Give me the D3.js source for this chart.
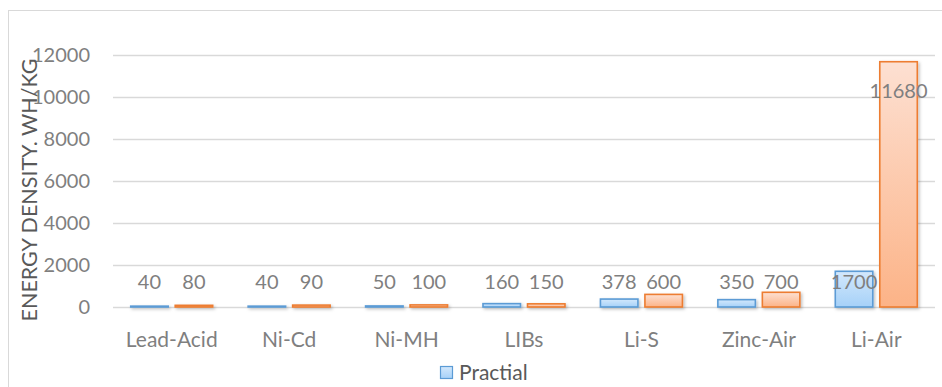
<!DOCTYPE html>
<html>
<head>
<meta charset="utf-8">
<script src="https://cdn.jsdelivr.net/npm/d3@7"></script>
<style>
  html, body { margin: 0; padding: 0; background: #fff; }
  svg { display: block; font-family: Lato, "Open Sans", sans-serif; }
</style>
</head>
<body>
<svg id="chart" width="942" height="387"></svg>
<script>
// Battery chemistries and their energy densities (Wh/kg)
const categories = ["Lead-Acid", "Ni-Cd", "Ni-MH", "LIBs", "Li-S", "Zinc-Air", "Li-Air"];
const practical = [40, 40, 50, 160, 378, 350, 1700];
const theoretical = [80, 90, 100, 150, 600, 700, 11680];
const yTicks = [0, 2000, 4000, 6000, 8000, 10000, 12000];
const yTitle = "ENERGY DENSITY. WH/KG";
const legendLabel = "Practial";

const svg = d3.select("#chart");
const W = 942, H = 387;
const plot = { left: 113, right: 935, top: 55, bottom: 307 };

const defs = svg.append("defs");
function gradient(id, top, bottom) {
  const g = defs.append("linearGradient").attr("id", id)
    .attr("x1", 0).attr("y1", 0).attr("x2", 0).attr("y2", 1);
  g.append("stop").attr("offset", "0%").attr("stop-color", top);
  g.append("stop").attr("offset", "100%").attr("stop-color", bottom);
}
gradient("gBlue", "#d3e8fc", "#a6d1f8");
gradient("gOrange", "#fde0d2", "#fcb387");
const shadow = defs.append("filter").attr("id", "shadow")
  .attr("x", "-20%").attr("y", "-20%").attr("width", "150%").attr("height", "150%");
shadow.append("feDropShadow").attr("dx", 1.5).attr("dy", 1.5)
  .attr("stdDeviation", 1.5).attr("flood-color", "#000").attr("flood-opacity", 0.25);

// Chart frame
svg.append("rect").attr("x", 8.5).attr("y", 10.5).attr("width", W).attr("height", H)
  .attr("fill", "#fff").attr("stroke", "#d9d9d9").attr("stroke-width", 1);

const x = d3.scaleBand().domain(categories).range([plot.left, plot.right]);
const y = d3.scaleLinear().domain([0, 12000]).range([plot.bottom, plot.top]);

// Gridlines
svg.append("g").selectAll("line").data(yTicks).join("line")
  .attr("x1", plot.left).attr("x2", plot.right)
  .attr("y1", d => Math.round(y(d)) + 0.5).attr("y2", d => Math.round(y(d)) + 0.5)
  .attr("stroke", "#d9d9d9").attr("stroke-width", 1.3);

// Y axis labels
const yAxis = svg.append("g").attr("transform", `translate(${plot.left},0)`)
  .call(d3.axisLeft(y).tickValues(yTicks).tickSize(0).tickPadding(23).tickFormat(d3.format("d")));
yAxis.select(".domain").remove();
yAxis.selectAll("text").attr("fill", "#7f7f7f").style("font-size", "20px")
  .style("font-family", "Lato, sans-serif");

// X axis labels
const xAxis = svg.append("g").attr("transform", `translate(0,${plot.bottom})`)
  .call(d3.axisBottom(x).tickSize(0).tickPadding(25));
xAxis.select(".domain").remove();
xAxis.selectAll("text").attr("fill", "#7f7f7f").style("font-size", "21px")
  .style("font-family", "Lato, sans-serif");

// Y axis title
svg.append("text")
  .attr("transform", "translate(37,190) rotate(-90)")
  .attr("text-anchor", "middle").attr("fill", "#595959")
  .style("font-size", "21.5px").text(yTitle);

// Bars
const barW = 37.5, gap = 7;
const series = [
  { values: practical, fill: "url(#gBlue)", stroke: "#5b9bd5", offset: -(gap / 2 + barW) },
  { values: theoretical, fill: "url(#gOrange)", stroke: "#ed7d31", offset: gap / 2 }
];
const cx = c => x(c) + x.bandwidth() / 2;

series.forEach(s => {
  const rows = categories.map((c, i) => ({ c, v: s.values[i] }));
  svg.append("g").attr("filter", "url(#shadow)").selectAll("rect").data(rows).join("rect")
    .attr("x", d => cx(d.c) + s.offset)
    .attr("y", d => y(d.v))
    .attr("width", barW)
    .attr("height", d => y(0) - y(d.v))
    .attr("fill", s.fill).attr("stroke", s.stroke).attr("stroke-width", 1.6);
});

// Value labels
series.forEach(s => {
  const rows = categories.map((c, i) => ({ c, v: s.values[i] }));
  svg.append("g").selectAll("text").data(rows).join("text")
    .attr("x", d => cx(d.c) + s.offset + barW / 2)
    .attr("y", d => Math.min(y(d.v) + 29, y(0) - 25))
    .attr("dy", "0.35em").attr("text-anchor", "middle")
    .attr("fill", "#7f7f7f").style("font-size", "20px")
    .text(d => d.v);
});

// Legend
const lg = svg.append("g").attr("transform", "translate(440,366)");
lg.append("rect").attr("x", 0.5).attr("y", 0.5).attr("width", 12).attr("height", 12)
  .attr("fill", "url(#gBlue)").attr("stroke", "#5b9bd5").attr("stroke-width", 1.2);
lg.append("text").attr("x", 19).attr("y", 6.5).attr("dy", "0.35em")
  .attr("fill", "#595959").style("font-size", "21px").text(legendLabel);
</script>
</body>
</html>
